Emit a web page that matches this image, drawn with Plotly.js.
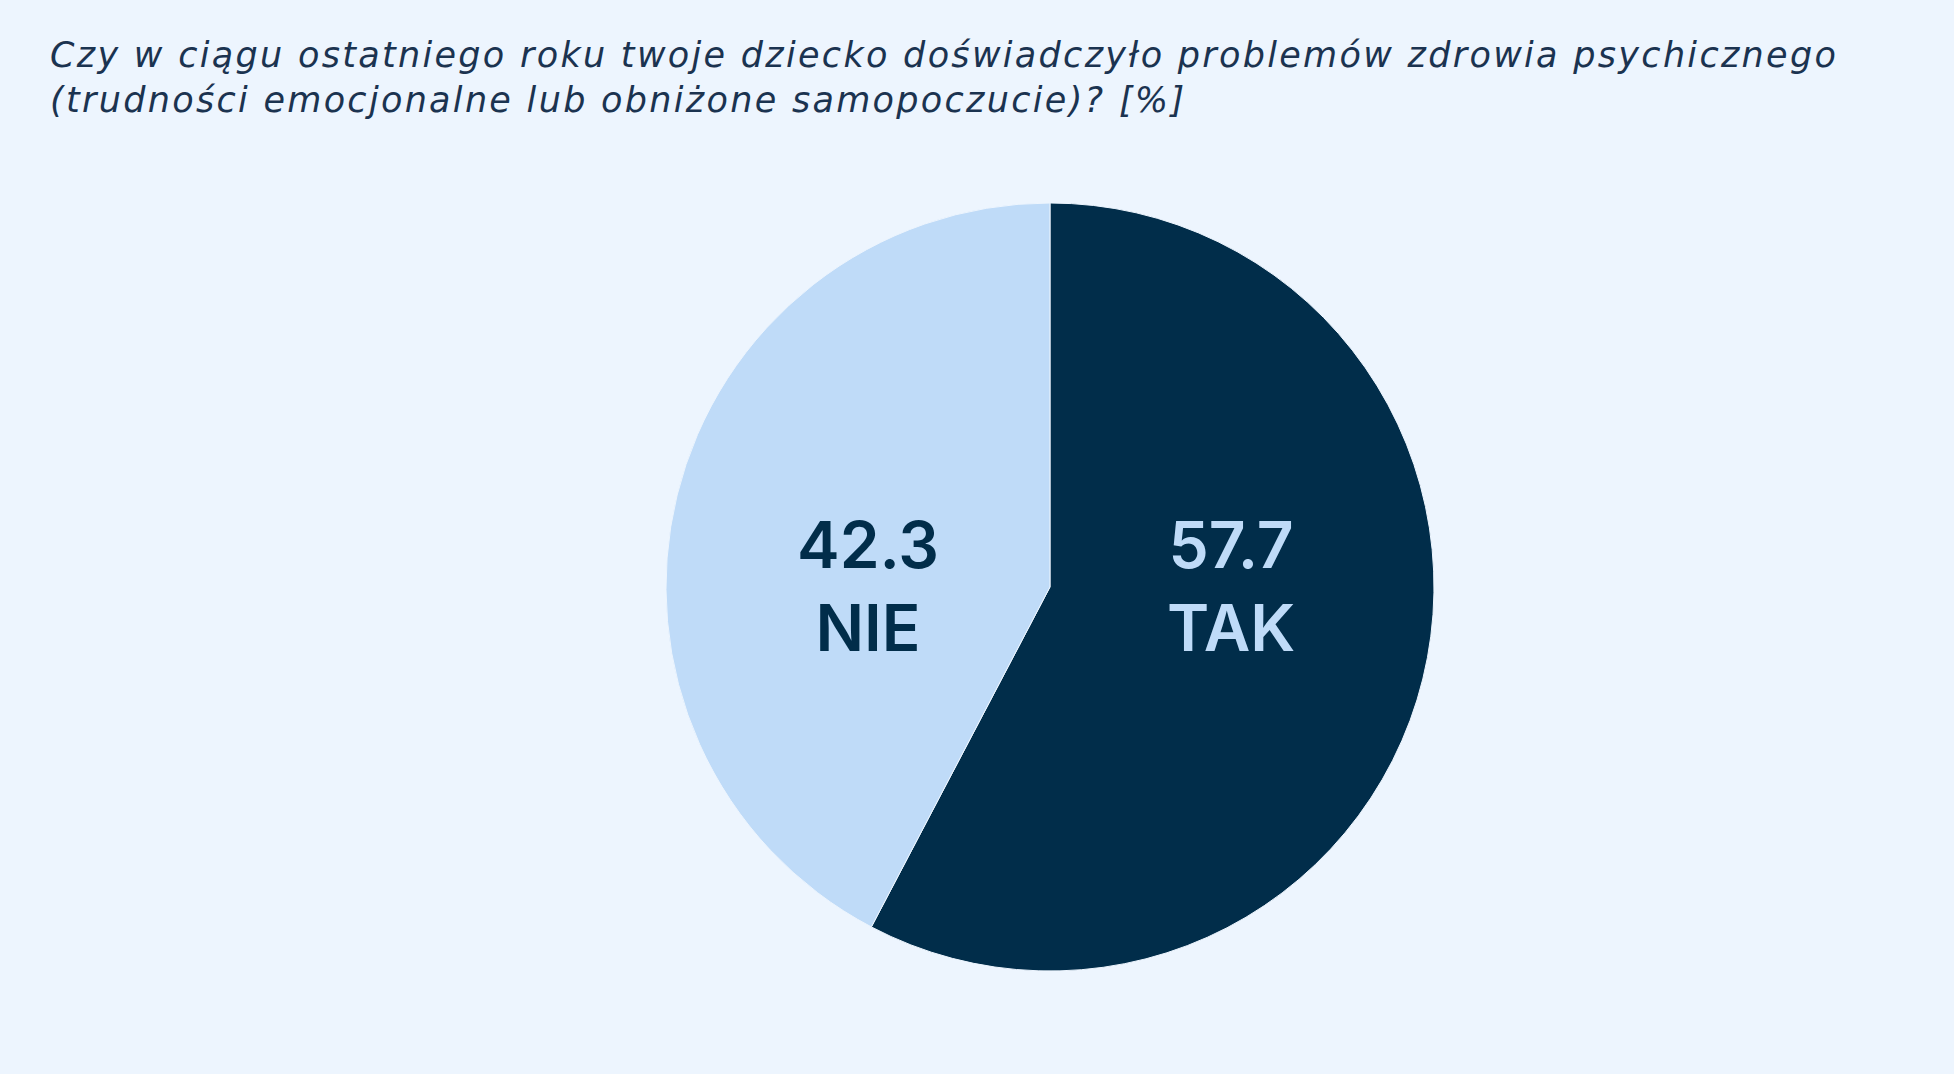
<!DOCTYPE html>
<html>
<head>
<meta charset="utf-8">
<script src="https://cdn.plot.ly/plotly-3.0.1.min.js"></script>
<style>
  html, body { margin: 0; padding: 0; background: #edf5fe; }
  #chart { width: 1954px; height: 1074px; }
  /* the original title font runs wider than anything installed */
  #chart .gtitle { letter-spacing: 2.3px; }
</style>
</head>
<body>
<div id="chart"></div>
<script>
const categories = ['TAK', 'NIE'];
const shares = [57.7, 42.3];
const sliceColors = ['#012d4a', '#bfdbf8'];
const labelColors = ['#bfdbf8', '#012d4a'];
// label anchor spots (paper fraction), one per slice
const labelX = [0.630, 0.444];

const titleText = 'Czy w ciągu ostatniego roku twoje dziecko doświadczyło problemów zdrowia psychicznego<br>(trudności emocjonalne lub obniżone samopoczucie)? [%]';

const trace = {
    type: 'pie',
    labels: categories,
    values: shares,
    sort: false,
    direction: 'clockwise',
    rotation: 0,
    marker: {colors: sliceColors, line: {color: '#edf5fe', width: 1}},
    textinfo: 'none',
    hoverinfo: 'none',
    showlegend: false,
    domain: {x: [0.3408, 0.7339], y: [0.0959, 0.811]}
};

const annotations = categories.map((cat, i) => ({
    xref: 'paper', yref: 'paper',
    x: labelX[i], y: 0.454,
    xanchor: 'center', yanchor: 'middle',
    showarrow: false,
    text: shares[i].toFixed(1) + '<br>' + cat,
    font: {family: 'Inter, sans-serif', size: 64, color: labelColors[i], weight: 600}
}));

const layout = {
    width: 1954,
    height: 1074,
    paper_bgcolor: '#edf5fe',
    plot_bgcolor: '#edf5fe',
    margin: {t: 0, b: 0, l: 0, r: 0},
    title: {
        text: titleText,
        font: {family: 'DejaVu Sans, sans-serif', size: 35, color: '#1b3350', style: 'italic'},
        xref: 'container', yref: 'container',
        x: 0.0256, xanchor: 'left',
        y: 0.938, yanchor: 'top'
    },
    annotations: annotations
};

Plotly.newPlot('chart', [trace], layout, {displayModeBar: false});
</script>
</body>
</html>
